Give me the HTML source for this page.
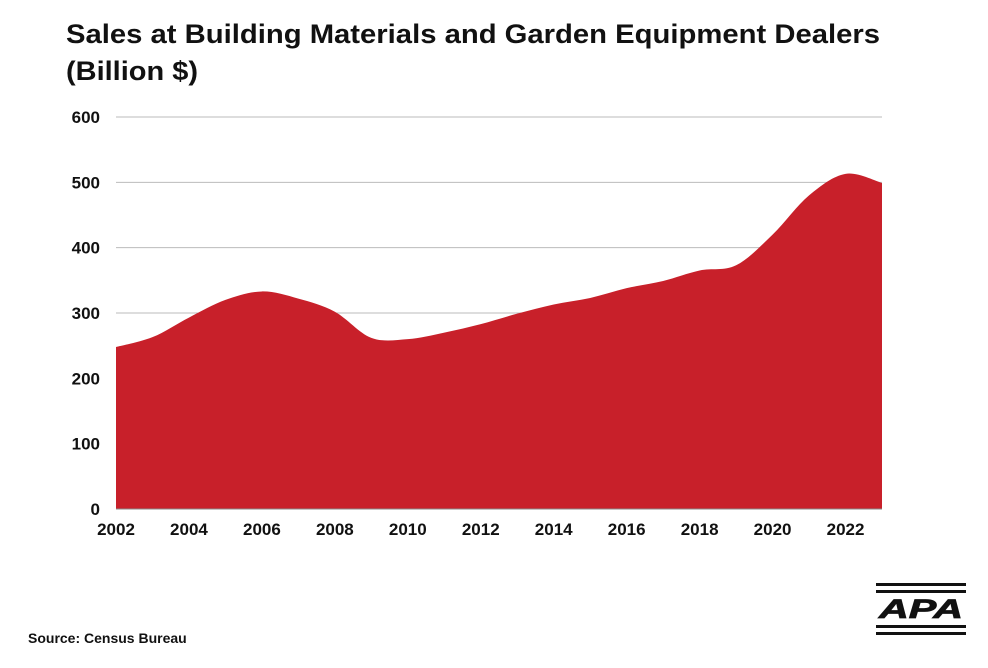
<!DOCTYPE html>
<html><head><meta charset="utf-8"><style>
body{margin:0;background:#fff;width:988px;height:663px;overflow:hidden;font-family:"Liberation Sans",Arial,sans-serif}
</style></head><body>
<svg width="988" height="663">
<text x="66" y="43" font-size="27" font-weight="bold" fill="#111" textLength="814" lengthAdjust="spacingAndGlyphs">Sales at Building Materials and Garden Equipment Dealers</text>
<text x="66" y="80" font-size="27" font-weight="bold" fill="#111" textLength="132" lengthAdjust="spacingAndGlyphs">(Billion $)</text>
<g id="grid"></g>
<path id="area" fill="#c8202a"></path>
<g id="axes"></g>
<text x="28" y="643" font-size="14" font-weight="bold" fill="#111">Source: Census Bureau</text>
<g>
<rect x="876" y="583" width="90" height="3" fill="#111"/>
<rect x="876" y="590" width="90" height="3" fill="#111"/>
<text x="879" y="618" font-size="27" font-weight="bold" font-style="italic" fill="#111" textLength="84" lengthAdjust="spacingAndGlyphs" stroke="#111" stroke-width="0.8">APA</text>
<rect x="876" y="625" width="90" height="3" fill="#111"/>
<rect x="876" y="632" width="90" height="3" fill="#111"/>
</g>
</svg>
<script>
const years=[2002,2003,2004,2005,2006,2007,2008,2009,2010,2011,2012,2013,2014,2015,2016,2017,2018,2019,2020,2021,2022,2023];
const sales=[248,263,293,320,333,322,302,262,260,270,283,299,313,323,338,349,365,373,420,480,513,499];
const yTicks=[0,100,200,300,400,500,600];
const xTickLabels=[2002,2004,2006,2008,2010,2012,2014,2016,2018,2020,2022];
const NS='http://www.w3.org/2000/svg';
const x=v=>116+(v-2002)*(882-116)/21;
const y=v=>509-v*(509-117)/600;
const grid=document.getElementById('grid'),axes=document.getElementById('axes');
yTicks.forEach(t=>{
 if(t>0){const l=document.createElementNS(NS,'line');
 
 
 l.setAttribute('x1',116);l.setAttribute('x2',882);l.setAttribute('y1',y(t));l.setAttribute('y2',y(t));
 l.setAttribute('stroke','#bbb');l.setAttribute('stroke-width','1');grid.appendChild(l);}
 const tx=document.createElementNS(NS,'text');
 
 
 tx.setAttribute('x',100);tx.setAttribute('y',y(t)+6);tx.setAttribute('text-anchor','end');
 tx.setAttribute('font-size','17');tx.setAttribute('font-weight','bold');tx.setAttribute('fill','#111');
 tx.textContent=t;axes.appendChild(tx);
});
xTickLabels.forEach(t=>{
 const tx=document.createElementNS(NS,'text');
 
 
 tx.setAttribute('x',x(t));tx.setAttribute('y',535);tx.setAttribute('text-anchor','middle');
 tx.setAttribute('font-size','17');tx.setAttribute('font-weight','bold');tx.setAttribute('fill','#111');
 tx.textContent=t;axes.appendChild(tx);
});
const pts=years.map((yr,i)=>[x(yr),y(sales[i])]);
let d='M'+x(years[0])+','+y(0)+' L'+pts[0][0]+','+pts[0][1];
for(let i=0;i<pts.length-1;i++){
 const p0=pts[Math.max(i-1,0)],p1=pts[i],p2=pts[i+1],p3=pts[Math.min(i+2,pts.length-1)];
 const c1=[p1[0]+(p2[0]-p0[0])/6,p1[1]+(p2[1]-p0[1])/6];
 const c2=[p2[0]-(p3[0]-p1[0])/6,p2[1]-(p3[1]-p1[1])/6];
 d+=' C'+c1+' '+c2+' '+p2;
}
d+=' L'+x(years[years.length-1])+','+y(0)+' Z';
document.getElementById('area').setAttribute('d',d);
const base=document.createElementNS(NS,'line');


base.setAttribute('x1',116);base.setAttribute('x2',882);base.setAttribute('y1',y(0));base.setAttribute('y2',y(0));
base.setAttribute('stroke','#888');axes.appendChild(base);
</script>
</body></html>
